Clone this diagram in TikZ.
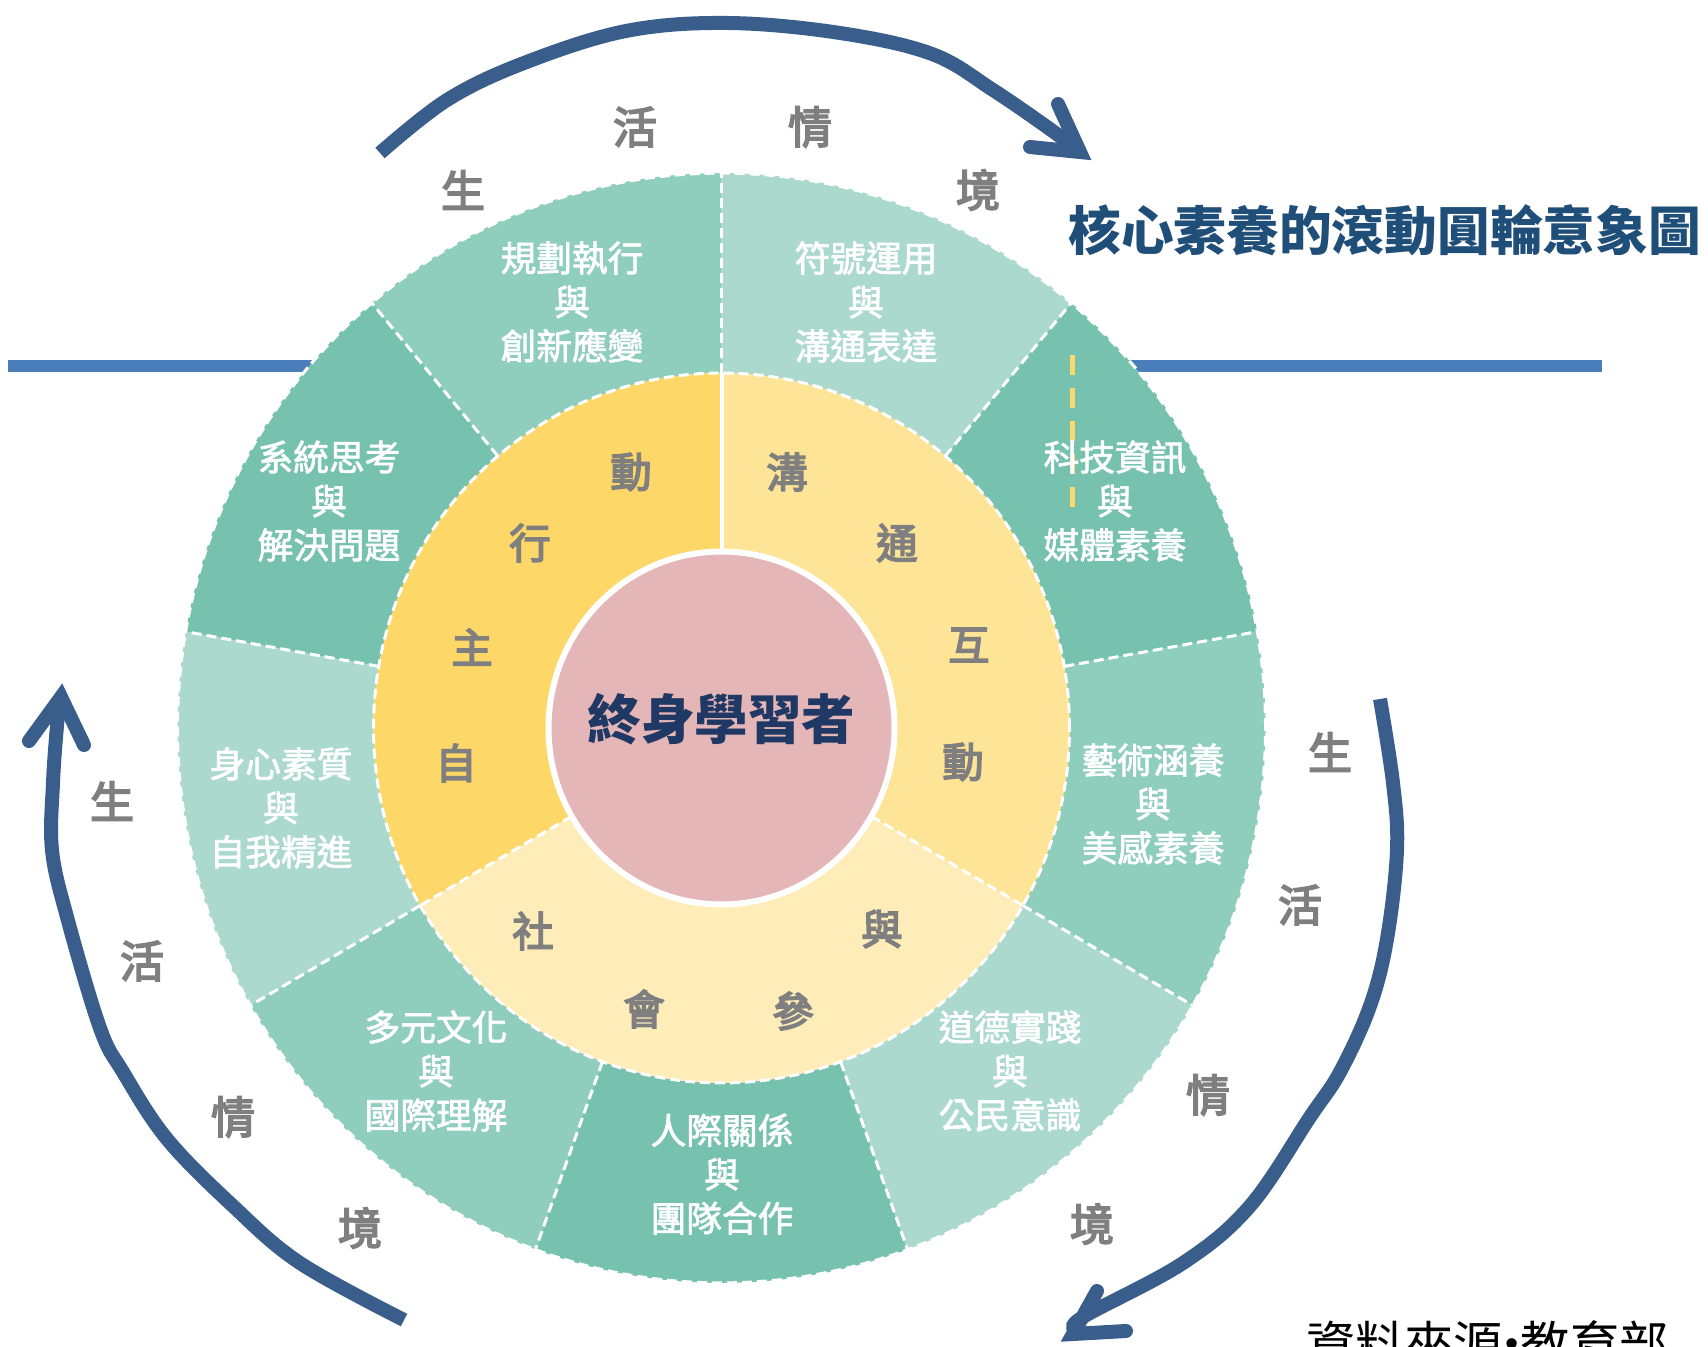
\documentclass[tikz,border=0pt]{standalone}
\usepackage{fontspec}
\setmainfont{Noto Sans CJK TC}
\newfontfamily\semibold[FakeBold=2]{Noto Sans CJK TC}
\newfontfamily\heavy[FakeBold=4]{Noto Sans CJK TC}
\definecolor{tealdark}{HTML}{76C2AE}
\definecolor{tealmid}{HTML}{8FCDBC}
\definecolor{teallight}{HTML}{ABD9CD}
\definecolor{goldfull}{HTML}{FDD767}
\definecolor{goldsoft}{HTML}{FEE496}
\definecolor{goldpale}{HTML}{FEEDB9}
\definecolor{learnerpink}{HTML}{E4B6B7}
\definecolor{lineblue}{HTML}{4A7EBB}
\definecolor{arrowblue}{HTML}{3A5E8C}
\definecolor{titleblue}{HTML}{1F4E79}
\definecolor{learnernavy}{HTML}{203864}
\definecolor{labelgray}{HTML}{7F7F7F}

\begin{document}
\begin{tikzpicture}[x=0.2mm,y=0.2mm,
  segtext/.style={text=white,align=center,font=\fontsize{20.3}{25}\semibold},
  ringchar/.style={text=labelgray,font=\fontsize{23.5}{24}\heavy},
  lifechar/.style={text=labelgray,font=\fontsize{25}{26}\heavy},
  wdash/.style={white,line width=0.6mm,dash pattern=on 2mm off 1mm},
  rollbody/.style={arrowblue,line width=2.8mm},
  rollhead/.style={arrowblue,line width=2.8mm,line cap=round,line join=miter}]
\useasboundingbox (0,0) rectangle (1708,-1347);

% horizon line behind the wheel
\draw[lineblue,line width=2.4mm] (8,-366) -- (1602,-366);

% the wheel
\begin{scope}[shift={(721.5,-728)},yscale=1.02]
  \foreach \a/\c in {90/tealmid,130/tealdark,170/teallight,210/tealmid,250/tealdark,
                     290/teallight,330/tealmid,370/tealdark,410/teallight}
    \fill[\c] (\a:348) -- (\a:544) arc[start angle=\a,delta angle=40,radius=544]
      -- ({\a+40}:348) arc[start angle={\a+40},delta angle=-40,radius=348] -- cycle;
  \foreach \a/\c in {90/goldfull,210/goldpale,330/goldsoft}
    \fill[\c] (\a:173) -- (\a:348) arc[start angle=\a,delta angle=120,radius=348]
      -- ({\a+120}:173) arc[start angle={\a+120},delta angle=-120,radius=173] -- cycle;
  \fill[learnerpink] (0,0) circle[radius=173];
  \draw[wdash] (0,0) circle[radius=544];
  \draw[wdash] (0,0) circle[radius=348];
  \foreach \a in {90,130,...,410}
    \draw[wdash] (\a:348) -- (\a:544);
  \draw[wdash] (210:173) -- (210:348) (330:173) -- (330:348);
  \draw[white,line width=0.8mm] (90:173) -- (90:348);
  \draw[white,line width=1.2mm] (0,0) circle[radius=173];
\end{scope}

\draw[goldfull,line width=1mm,dash pattern=on 4mm off 2.6mm] (1072,-355) -- (1072,-507);

\node[text=learnernavy,font=\fontsize{30.5}{31}\selectfont\bfseries] (learner) at (721.5,-719) {終身學習者};

% nine outer fields
\node[segtext] (plan)    at (572,-302)  {規劃執行\\與\\創新應變};
\node[segtext] (symbol)  at (866,-302)  {符號運用\\與\\溝通表達};
\node[segtext] (system)  at (329,-501)  {系統思考\\與\\解決問題};
\node[segtext] (tech)    at (1115,-501) {科技資訊\\與\\媒體素養};
\node[segtext] (body)    at (281,-808)  {身心素質\\與\\自我精進};
\node[segtext] (art)     at (1153,-804) {藝術涵養\\與\\美感素養};
\node[segtext] (culture) at (436,-1071) {多元文化\\與\\國際理解};
\node[segtext] (moral)   at (1010,-1071) {道德實踐\\與\\公民意識};
\node[segtext] (people)  at (722,-1174) {人際關係\\與\\團隊合作};

% three middle fields
\foreach \t/\x/\y [count=\i] in {動/631/472,行/530/543,主/472/647,自/456/763,
    溝/787/472,通/897/543,互/969/645,動/963/762,
    社/533/931,會/644/1009,參/793/1011,與/882/929}
  \node[ringchar] (ring\i) at (\x,-\y) {\t};

% life context around the wheel
\foreach \t/\x/\y [count=\i] in {生/463/190,活/635/127,情/810/127,境/978/190,
    生/1330/752,活/1300/905,情/1208/1095,境/1092/1224,
    生/112/801,活/142/961,情/233/1117,境/360/1228}
  \node[lifechar] (life\i) at (\x,-\y) {\t};

% rolling arrows
\draw[rollbody] plot[smooth,tension=0.6] coordinates {(380,-153) (447,-100) (524,-63)
  (626,-31) (728,-23) (840,-33) (932,-54) (993,-90) (1054,-132) (1074,-148)};
\draw[rollhead] (1058,-104) -- (1080,-152) -- (1030,-147);
\draw[rollbody] plot[smooth,tension=0.6] coordinates {(1380,-699) (1393,-783) (1397,-850)
  (1387,-939) (1370,-1006) (1340,-1072) (1310,-1117) (1250,-1206) (1183,-1263)
  (1083,-1317) (1077,-1328)};
\draw[rollhead] (1097,-1291) -- (1073,-1334) -- (1126,-1331);
\draw[rollbody] plot[smooth,tension=0.6] coordinates {(404,-1320) (300,-1263) (233,-1206)
  (167,-1139) (123,-1072) (100,-1028) (67,-917) (52,-850) (53,-783) (57,-726) (60,-702)};
\draw[rollhead] (29,-741) -- (61,-697) -- (84,-745);

\node[anchor=west,inner sep=0,text=titleblue,font=\fontsize{30}{31}\selectfont\bfseries]
  (title) at (1068,-230) {核心素養的滾動圓輪意象圖};
\node[anchor=north west,inner sep=0,font=\fontsize{28}{28}\selectfont]
  (source) at (1306,-1320) {資料來源\hspace{-0.32em}·\hspace{-0.32em}教育部};
\end{tikzpicture}
\end{document}
